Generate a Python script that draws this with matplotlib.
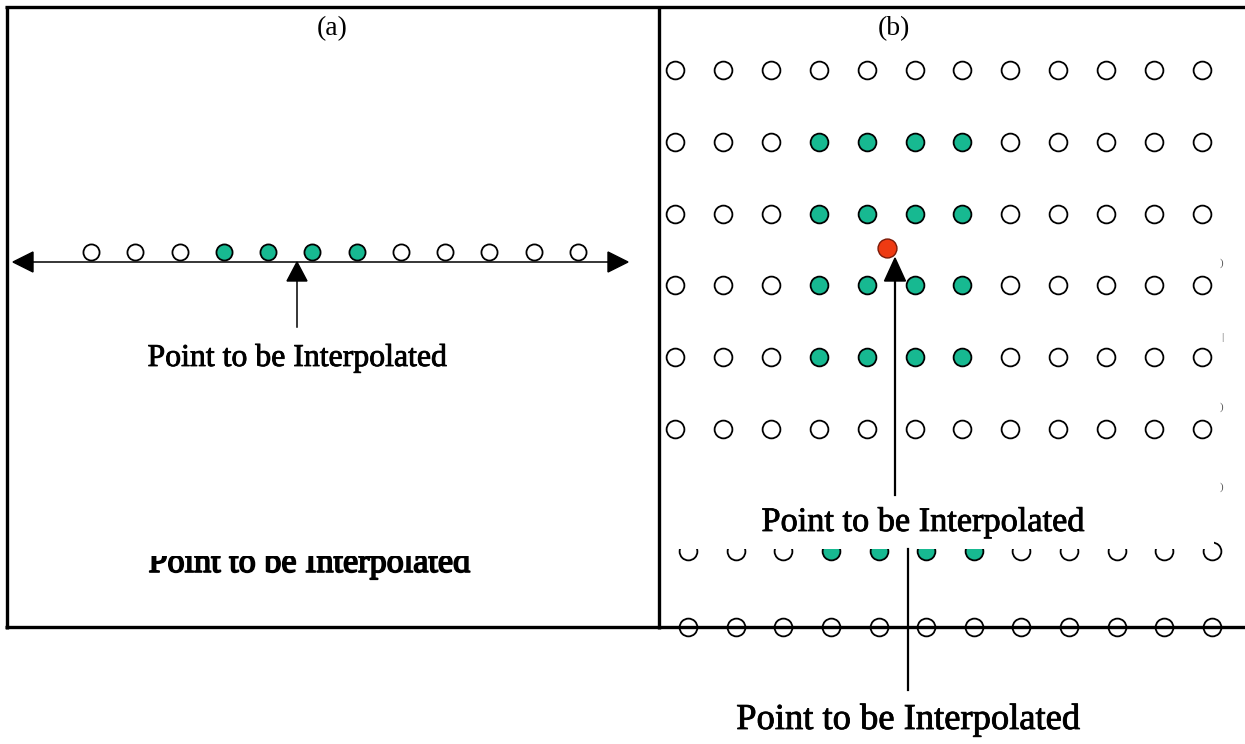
import matplotlib
matplotlib.use("Agg")
import matplotlib.pyplot as plt
import matplotlib.patheffects as pe
from matplotlib.patches import Polygon, Rectangle

# ---------------- data ----------------
cols_1d = [1, 2, 3, 4, 5, 6, 7, 8, 9, 10, 11, 12]
neighbors_1d = [4, 5, 6, 7]

grid_cols = [1, 2, 3, 4, 5, 6, 7, 8, 9, 10, 11, 12]
grid_rows = [1, 2, 3, 4, 5, 6]
neighbor_cols_2d = [4, 5, 6, 7]
neighbor_rows_2d = [2, 3, 4, 5]
interp_point_2d = (5.43, 3.48)

ghost_rows = [1, 2]
ghost_neighbor_rows = [1]

panel_labels = ["(a)", "(b)"]
annotation_text = "Point to be Interpolated"

# ---------------- styles ----------------
W, H, DPI = 1245, 744, 100
TEAL = "#17b991"
RED = "#ee3a12"
FONT = ["Liberation Serif", "DejaVu Serif"]
HEAVY = [pe.withStroke(linewidth=0.6, foreground="black")]

fig = plt.figure(figsize=(W / DPI, H / DPI), dpi=DPI)
fig.patch.set_facecolor("white")


def px_axes(x0, x1, y0, y1, xlim, ylim, z):
    ax = fig.add_axes([x0 / W, 1 - y1 / H, (x1 - x0) / W, (y1 - y0) / H])
    ax.set_xlim(*xlim)
    ax.set_ylim(*ylim)
    ax.axis("off")
    ax.patch.set_alpha(0)
    ax.set_zorder(z)
    return ax


def draw_grid(ax, cols, rows, ncols, nrows, ms, red=None):
    for r in rows:
        for c in cols:
            filled = (c in ncols) and (r in nrows)
            ax.plot([c], [r], marker="o", ms=ms, mew=1.3,
                    mfc=TEAL if filled else "white", mec="black",
                    ls="none", clip_on=False)
    if red is not None:
        ax.plot([red[0]], [red[1]], marker="o", ms=ms + 0.8, mew=1.0,
                mfc=RED, mec="#7a1a08", ls="none", clip_on=False, zorder=5)


# canvas in pixel coordinates (layout / annotations)
cv = fig.add_axes([0, 0, 1, 1])
cv.set_xlim(0, W)
cv.set_ylim(H, 0)
cv.axis("off")
cv.patch.set_alpha(0)
cv.set_zorder(2)

# ---- ghost copy of panel (b) (lower, shifted) ----
ax_g = px_axes(688 - 23.8, 1212 + 23.8, 551 - 37.5, 627 + 37.5,
               (0.5, 12.5), (2.5, 0.5), 1)
draw_grid(ax_g, grid_cols, ghost_rows, neighbor_cols_2d, ghost_neighbor_rows, 12.8)

# ---- panel (a) ----
ax_a = px_axes(68.86, 600.14, 242, 262, (0.5, 12.5), (1.5, 0.5), 3)
draw_grid(ax_a, cols_1d, [1], neighbors_1d, [1], 11.6)

# ---- panel (b) ----
ax_b = px_axes(651.05, 1225.95, 34.1, 464.9, (0.5, 12.5), (6.5, 0.5), 3)
draw_grid(ax_b, grid_cols, grid_rows, neighbor_cols_2d, neighbor_rows_2d, 12.8,
          red=interp_point_2d)

# ---- frame ----
lw_frame = 2.4
cv.plot([5, W], [7, 7], color="black", lw=lw_frame, solid_capstyle="butt")
cv.plot([6.7, 6.7], [5.5, 628.5], color="black", lw=lw_frame, solid_capstyle="butt")
cv.plot([659, 659], [5.5, 628.5], color="black", lw=lw_frame, solid_capstyle="butt")
cv.plot([5, W], [627, 627], color="black", lw=lw_frame, solid_capstyle="butt", zorder=4)

# ---- panel (a) annotations ----
cv.text(332, 29, panel_labels[0], ha="center", va="center", fontsize=20, family=FONT)
cv.plot([30, 612], [262, 262], color="black", lw=1.1)
cv.add_patch(Polygon([(13, 262), (33, 252), (33, 272)], closed=True, color="black"))
cv.add_patch(Polygon([(628, 262), (608, 252), (608, 272)], closed=True, color="black"))
cv.add_patch(Polygon([(297, 262), (287, 281), (307, 281)], closed=True, color="black"))
cv.plot([297, 297], [280, 327], color="black", lw=1.1)
cv.text(297, 366, annotation_text, ha="center", va="baseline", fontsize=22.9,
        family=FONT, path_effects=HEAVY)

# clipped ghost text in panel (a)
clip = Rectangle((100, 556), 420, 40, transform=cv.transData, fill=False, lw=0)
cv.add_patch(clip)
gt = cv.text(309, 572, annotation_text, ha="center", va="baseline", fontsize=24.6,
             family=FONT, clip_on=True,
             path_effects=[pe.withStroke(linewidth=1.2, foreground="black")])
gt.set_clip_path(clip)

# ---- panel (b) annotations ----
cv.text(894, 29, panel_labels[1], ha="center", va="center", fontsize=20, family=FONT)
cv.add_patch(Polygon([(895, 258), (884.5, 281), (905.5, 281)], closed=True,
                     color="black", zorder=4))
cv.plot([895, 895], [280, 495], color="black", lw=1.6, zorder=4)

# white text box hiding the ghost copy
cv.add_patch(Rectangle((670, 494), 544, 55, facecolor="white", edgecolor="none", zorder=3))
cv.text(923, 531, annotation_text, ha="center", va="baseline", fontsize=24.7,
        family=FONT, zorder=5, path_effects=HEAVY)

# ghost stem + lower text
cv.plot([908, 908], [549, 690], color="black", lw=1.6, zorder=4)
cv.text(908, 729, annotation_text, ha="center", va="baseline", fontsize=26.3,
        family=FONT, zorder=5, path_effects=HEAVY)

# small stray fragments at the right edge
for yy, ch in zip([263, 337, 407, 487], [")", "|", ")", ")"]):
    cv.text(1222, yy, ch, ha="center", va="center", fontsize=8, color="#555555",
            family=FONT)

fig.savefig("out.png", dpi=DPI, facecolor="white")
